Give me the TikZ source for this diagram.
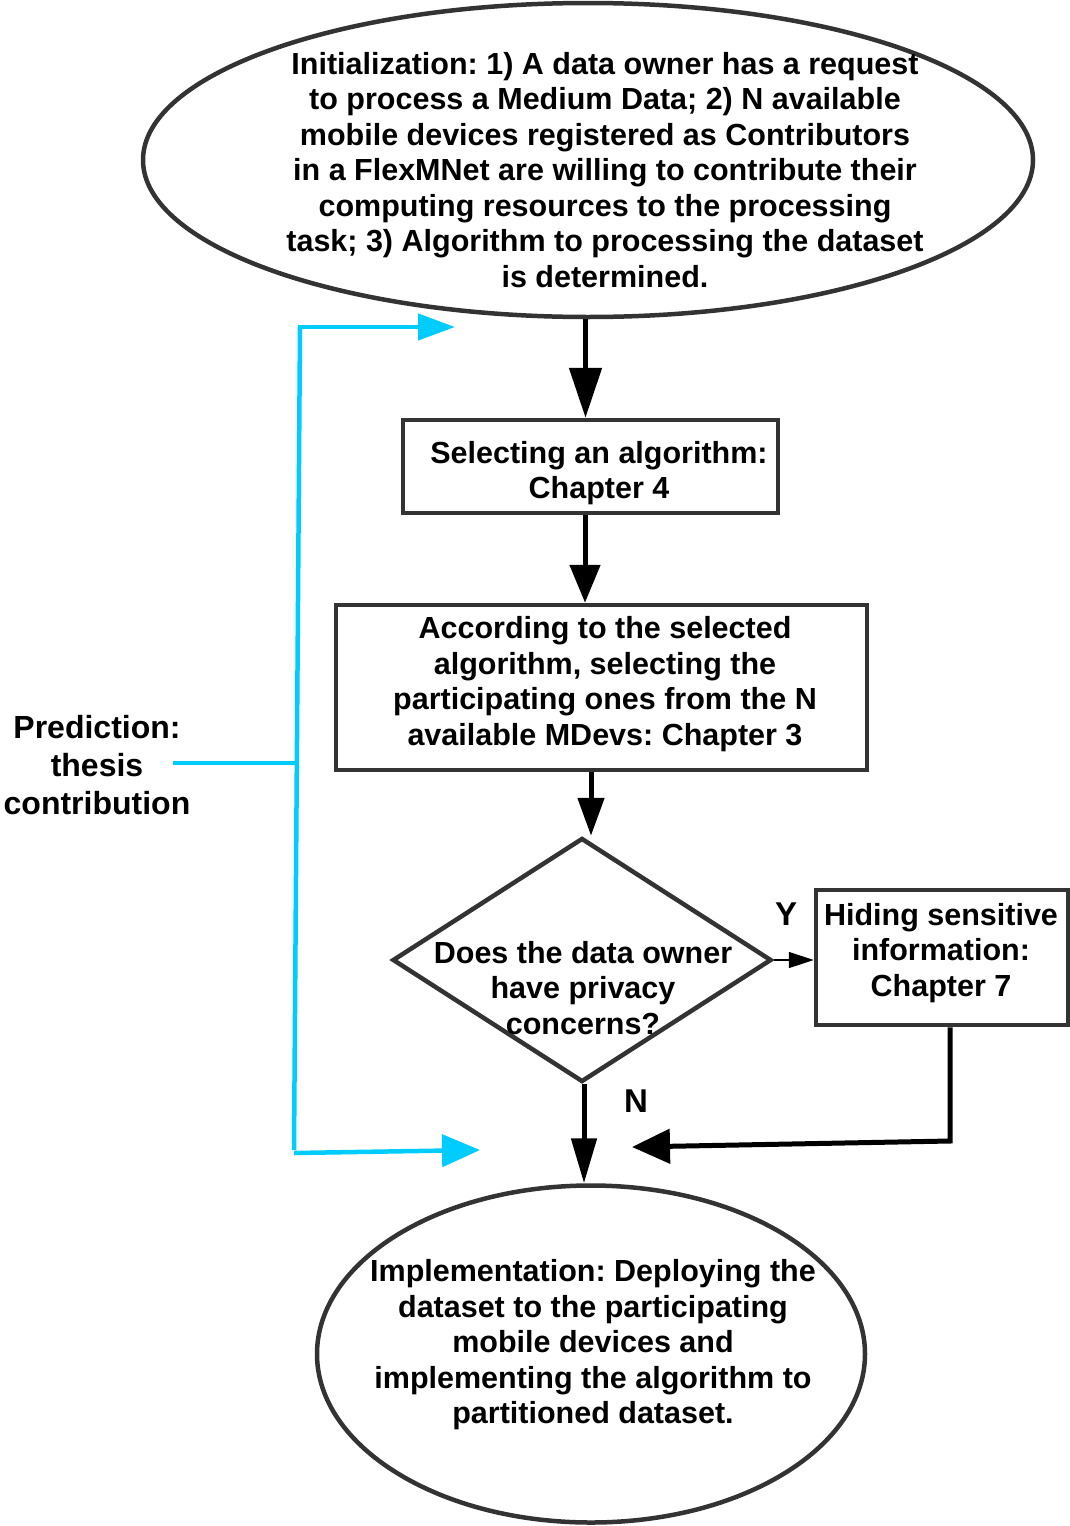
\documentclass[tikz,border=0pt]{standalone}
\usepackage{fontspec}
\setmainfont{Liberation Sans}
\usetikzlibrary{shapes.geometric,arrows.meta}

\definecolor{edge}{RGB}{51,51,51}
\definecolor{flowcyan}{RGB}{0,204,255}

\begin{document}
\frenchspacing
\begin{tikzpicture}[x=1pt,y=-1pt,
  outline/.style={draw=edge, line width=4.5pt, inner sep=0pt},
  txt/.style={font=\fontsize{30.5}{35.5}\selectfont\bfseries, align=center, inner sep=0pt},
  flow/.style={line width=5pt, draw=black},
  cyanline/.style={line width=4.5pt, draw=flowcyan},
]
\useasboundingbox (0,0) rectangle (1070,1526);

% shapes
\node[outline, ellipse, minimum width=890pt, minimum height=314pt] (init) at (588,160) {};
\node[outline, rectangle, minimum width=375pt, minimum height=93pt] (select) at (590.5,466.5) {};
\node[outline, rectangle, minimum width=531pt, minimum height=165pt] (alloc) at (601.5,687.5) {};
\node[outline, diamond, minimum width=379pt, minimum height=244pt] (privacy) at (582,960) {};
\node[outline, rectangle, minimum width=252pt, minimum height=135pt] (hide) at (942,957.5) {};
\node[outline, ellipse, minimum width=548pt, minimum height=337pt] (impl) at (591,1354) {};

% texts
\node[txt] (init-label) at (605,170) {Initialization: 1) A data owner has a request\\to process a Medium Data; 2) N available\\mobile devices registered as Contributors\\in a FlexMNet are willing to contribute their\\computing resources to the processing\\task; 3) Algorithm to processing the dataset\\is determined.};
\node[txt] (select-label) at (599,473) {Selecting an algorithm:\\Chapter 4};
\node[txt] (alloc-label) at (605,684) {According to the selected\\algorithm, selecting the\\participating ones from the N\\available MDevs: Chapter 3};
\node[txt] (privacy-label) at (583,988) {Does the data owner\\have privacy\\concerns?};
\node[txt] (hide-label) at (941,953) {Hiding sensitive\\information:\\Chapter 7};
\node[txt] (impl-label) at (593,1345) {Implementation: Deploying the\\dataset to the participating\\mobile devices and\\implementing the algorithm to\\partitioned dataset.};
\node[txt, font=\fontsize{32}{38}\selectfont\bfseries] (pred) at (97,765) {Prediction:\\thesis\\contribution};
\node[txt, font=\fontsize{33}{38}\selectfont\bfseries] (yes) at (786,914) {Y};
\node[txt, font=\fontsize{33}{38}\selectfont\bfseries] (no) at (636,1101) {N};

% main flow
\draw[flow, -{Triangle[length=50pt,width=32pt]}]
  ([xshift=-5pt]select.north |- init.south) -- ([xshift=-5pt]select.north);
\draw[flow, -{Triangle[length=38pt,width=30pt]}]
  ([xshift=-5.5pt]select.south) -- ([xshift=-5.5pt]select.south |- alloc.north);
\draw[flow, -{Triangle[length=38pt,width=26pt]}]
  ([xshift=-10.5pt]alloc.south) -- ([xshift=-10.5pt]alloc.south |- privacy.north);
\draw[flow, -{Triangle[length=45pt,width=25pt]}]
  ([xshift=2pt]privacy.south) -- ([xshift=2pt]privacy.south |- impl.north);
\draw[line width=1.5pt, -{Triangle[length=25pt,width=16pt]}]
  (privacy.east) -- (privacy.east -| hide.west);

% return path from the hiding step
\coordinate (hide-turn) at (950,1141);
\coordinate (merge) at (632,1147);
\draw[flow, -{Triangle[length=38pt,width=34pt]}]
  ([xshift=8pt]hide.south) -- (hide-turn) -- (merge);

% prediction bracket
\coordinate (br-top) at (300,327);
\coordinate (br-bot) at (294,1150);
\coordinate (br-mid) at (297,763);
\coordinate (pred-end) at (173,763);
\coordinate (tip-top) at (455,327);
\coordinate (tip-bot) at (480,1147);
\draw[cyanline] (br-top) -- (br-bot);
\draw[cyanline] (pred-end) -- (br-mid);
\draw[cyanline, -{Triangle[length=37pt,width=26pt]}] ([xshift=-2.25pt]br-top) -- (tip-top);
\draw[cyanline, -{Triangle[length=38pt,width=32pt]}] ([yshift=-3pt]br-bot) -- ([yshift=-3pt]tip-bot);
\end{tikzpicture}
\end{document}
